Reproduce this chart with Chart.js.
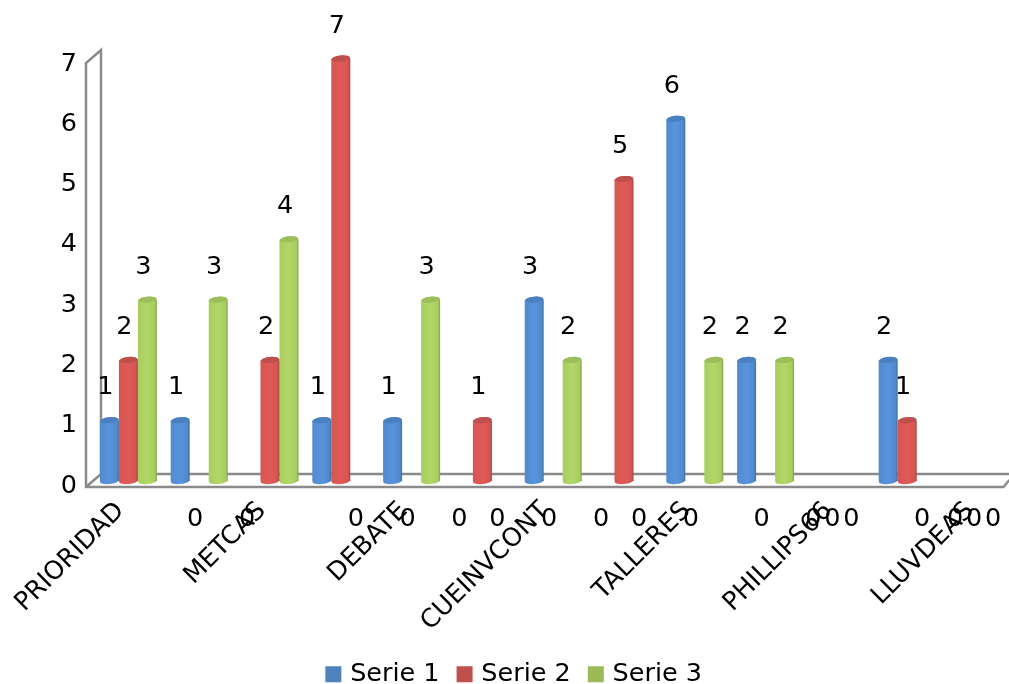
<!DOCTYPE html>
<html lang="en">
<head>
    <meta charset="UTF-8">
    <title>Serie 1, Serie 2, Serie 3</title>
    <script src="https://cdn.jsdelivr.net/npm/chart.js"></script>
    <style>
        html, body { margin: 0; padding: 0; background: #fff; }
        #wrap { width: 1009px; height: 684px; overflow: hidden; }
        canvas { display: block; }
    </style>
</head>
<body>
<div id="wrap">
    <canvas id="chart" width="1028" height="697" style="width:1028px;height:697px"></canvas>
</div>

<script>
    // only every second category name is shown in the picture
    const categories = ['PRIORIDAD', '', 'METCAS', '', 'DEBATE', '', 'CUEINVCONT', '', 'TALLERES', '', 'PHILLIPS66', '', 'LLUVDEAS'];
    const serie1 = [1, 1, 0, 1, 1, 0, 3, 0, 6, 2, 0, 2, 0];
    const serie2 = [2, 0, 2, 7, 0, 1, 0, 5, 0, 0, 0, 1, 0];
    const serie3 = [3, 3, 4, 0, 3, 0, 2, 0, 2, 2, 0, 0, 0];
    const yTicks = [0, 1, 2, 3, 4, 5, 6, 7];

    const fontFamily = '"DejaVu Sans", sans-serif';
    const fontSize = 25.5;
    const groupPercent = 0.805;

    // legend colour, then cap / left / middle / right of the cylinder
    const shades = [
        { legend: '#4f81bd', cap: '#4a80bd', left: '#5089cf', mid: '#5994dc', right: '#40719f' },
        { legend: '#c0504d', cap: '#bd4f4c', left: '#d65552', mid: '#e05b58', right: '#a04643' },
        { legend: '#9bbb59', cap: '#9cbd5a', left: '#a8cd60', mid: '#b1d766', right: '#88a050' }
    ];

    function cylinderGradient(ctx, x, width, s) {
        const g = ctx.createLinearGradient(x - width / 2, 0, x + width / 2, 0);
        g.addColorStop(0, s.left);
        g.addColorStop(0.5, s.mid);
        g.addColorStop(0.88, s.left);
        g.addColorStop(1, s.right);
        return g;
    }

    // the value labels and the 3D box are not something Chart.js has, so plugins do them
    const wallsPlugin = {
        id: 'walls',
        afterLayout(chart) {
            // legend is centred without the right padding, push it back
            chart.legend.left += 9;
            chart.legend.right += 9;
        },
        beforeDatasetsDraw(chart) {
            const { ctx, chartArea: a } = chart;
            ctx.save();
            ctx.strokeStyle = '#8a8a8a';
            ctx.lineWidth = 2.5;
            ctx.beginPath();
            ctx.moveTo(a.left + 8, a.bottom - 7);
            ctx.lineTo(a.left + 8, a.top - 9);
            ctx.lineTo(a.left - 7, a.top + 4);
            ctx.lineTo(a.left - 7, a.bottom + 6);
            ctx.lineTo(a.right - 10, a.bottom + 6);
            ctx.lineTo(a.right - 4, a.bottom - 1);
            ctx.moveTo(a.left - 7, a.bottom + 6);
            ctx.lineTo(a.left + 8, a.bottom - 7);
            ctx.lineTo(a.right, a.bottom - 7);
            ctx.stroke();
            ctx.restore();
        }
    };

    const cylinderPlugin = {
        id: 'cylinders',
        afterDatasetsDraw(chart) {
            const { ctx, chartArea: a } = chart;
            ctx.save();
            ctx.font = fontSize + 'px ' + fontFamily;
            ctx.textAlign = 'center';
            ctx.textBaseline = 'middle';
            chart.data.datasets.forEach((ds, d) => {
                chart.getDatasetMeta(d).data.forEach((bar, i) => {
                    const v = ds.data[i];
                    if (v > 0) {
                        ctx.fillStyle = cylinderGradient(ctx, bar.x, bar.width, shades[d]);
                        ctx.beginPath();
                        ctx.ellipse(bar.x, bar.base, bar.width / 2, 3, -0.1, 0, Math.PI * 2);
                        ctx.fill();
                        ctx.beginPath();
                        ctx.ellipse(bar.x, bar.y, bar.width / 2, 3.5, -0.1, 0, Math.PI * 2);
                        ctx.fill();
                        ctx.fillStyle = shades[d].cap;
                        ctx.beginPath();
                        ctx.ellipse(bar.x, bar.y - 0.5, bar.width / 2 - 0.5, 3, -0.1, 0, Math.PI * 2);
                        ctx.fill();
                    }
                    ctx.fillStyle = '#000';
                    // zero labels sit under the floor, the rest above the bar
                    ctx.fillText(v, bar.x - 4, v > 0 ? bar.y - 33 : a.bottom + 38);
                });
            });
            ctx.restore();
        }
    };

    function makeDataset(label, data, index) {
        return {
            label: label,
            data: data,
            backgroundColor: c => {
                const x = c.chart.scales.x;
                const width = x.width / categories.length * groupPercent / 3;
                const center = x.getPixelForValue(c.dataIndex) + (index - 1) * width;
                return cylinderGradient(c.chart.ctx, center, width, shades[index]);
            },
            borderWidth: 0,
            categoryPercentage: groupPercent,
            barPercentage: 1
        };
    }

    new Chart(document.getElementById('chart').getContext('2d'), {
        type: 'bar',
        data: {
            labels: categories,
            datasets: [
                makeDataset('Serie 1', serie1, 0),
                makeDataset('Serie 2', serie2, 1),
                makeDataset('Serie 3', serie3, 2)
            ]
        },
        options: {
            responsive: false,
            animation: false,
            devicePixelRatio: 1,
            layout: { padding: { top: 59, right: 14.6, left: 0, bottom: 0 } },
            scales: {
                x: {
                    afterFit: s => { s.height = 159.5; s.paddingLeft = 0; s.paddingRight = 0; },
                    grid: { display: false, drawTicks: false },
                    border: { display: false },
                    ticks: {
                        autoSkip: false,
                        minRotation: 45,
                        maxRotation: 45,
                        padding: 15,
                        labelOffset: -8,
                        color: '#000',
                        font: { family: fontFamily, size: fontSize }
                    }
                },
                y: {
                    min: 0,
                    max: yTicks[yTicks.length - 1],
                    afterFit: s => { s.width = 93; },
                    afterBuildTicks: s => { s.ticks = yTicks.map(v => ({ value: v })); },
                    grid: { display: false, drawTicks: false },
                    border: { display: false },
                    ticks: {
                        padding: 16,
                        labelOffset: 5,
                        color: '#000',
                        font: { family: fontFamily, size: fontSize }
                    }
                }
            },
            plugins: {
                tooltip: { enabled: false },
                legend: {
                    position: 'bottom',
                    labels: {
                        color: '#000',
                        font: { family: fontFamily, size: fontSize },
                        boxWidth: 8,
                        boxHeight: 8,
                        padding: 21,
                        generateLabels: chart => chart.data.datasets.map((ds, i) => ({
                            text: ds.label,
                            fillStyle: shades[i].legend,
                            strokeStyle: shades[i].legend,
                            lineWidth: 8,
                            datasetIndex: i,
                            hidden: false
                        }))
                    }
                }
            }
        },
        plugins: [wallsPlugin, cylinderPlugin]
    });
</script>
</body>
</html>
